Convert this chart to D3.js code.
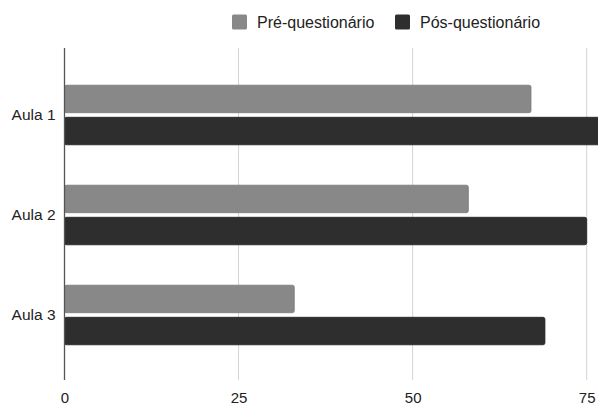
<!DOCTYPE html>
<html>
<head>
<meta charset="utf-8">
<script src="https://cdn.jsdelivr.net/npm/d3@7"></script>
<style>
  html, body { margin: 0; padding: 0; background: #fff; }
  svg { display: block; font-family: "Liberation Sans", Arial, sans-serif; }
</style>
</head>
<body>
<svg id="chart" width="598" height="405"></svg>
<script>
// Categories and series
const categories = ["Aula 1", "Aula 2", "Aula 3"];
const seriesNames = ["Pré-questionário", "Pós-questionário"];
const preValues = [67, 58, 33];
const posValues = [80, 75, 69];
const xTicks = [0, 25, 50, 75];

const colors = ["#888888", "#2e2e2e"];
const strokes = ["#7a7a7a", "#1e1e1e"];

const svg = d3.select("#chart");
const plotLeft = 64.5, plotTop = 48, plotBottom = 380;

const x = d3.scaleLinear().domain([0, 75]).range([plotLeft, 586.7]);
const y = d3.scaleBand().domain(categories).range([65, 365]).paddingInner(0).paddingOuter(0);
const sub = d3.scaleBand().domain(seriesNames).range([0, y.bandwidth()]).paddingInner(0.143).paddingOuter(0.63);

// Vertical gridlines
svg.append("g")
  .selectAll("line")
  .data(xTicks.filter(d => d > 0))
  .join("line")
  .attr("x1", d => x(d)).attr("x2", d => x(d))
  .attr("y1", plotTop).attr("y2", plotBottom)
  .attr("stroke", "#d3d3d3").attr("stroke-width", 1);

// Bars
const rows = categories.map((c, i) => ({ cat: c, vals: [preValues[i], posValues[i]] }));
const g = svg.append("g");
rows.forEach(r => {
  r.vals.forEach((v, j) => {
    g.append("rect")
      .attr("x", x(0))
      .attr("y", y(r.cat) + sub(seriesNames[j]))
      .attr("width", x(v) - x(0))
      .attr("height", sub.bandwidth())
      .attr("rx", 2).attr("ry", 2)
      .attr("fill", colors[j])
      .attr("stroke", strokes[j]).attr("stroke-width", 0.8);
  });
});

// Axis line at zero
svg.append("line")
  .attr("x1", x(0)).attr("x2", x(0))
  .attr("y1", plotTop).attr("y2", plotBottom)
  .attr("stroke", "#555").attr("stroke-width", 1.3);

// X tick labels
const xAxis = d3.axisBottom(x).tickValues(xTicks).tickSize(0).tickPadding(0);
const xa = svg.append("g").attr("transform", `translate(0, ${392})`).call(xAxis);
xa.select(".domain").remove();
xa.selectAll("text").attr("font-size", 15).attr("fill", "#222")
  .attr("font-family", "Liberation Sans, Arial, sans-serif");

// Category labels
const yAxis = d3.axisLeft(y).tickSize(0).tickPadding(9);
const ya = svg.append("g").attr("transform", `translate(${x(0)}, 0)`).call(yAxis);
ya.select(".domain").remove();
ya.selectAll("text").attr("font-size", 15.5).attr("fill", "#222")
  .attr("font-family", "Liberation Sans, Arial, sans-serif");

// Legend
const legendX = [232, 395];
const lg = svg.append("g");
seriesNames.forEach((s, j) => {
  lg.append("rect")
    .attr("x", legendX[j]).attr("y", 14.5)
    .attr("width", 15).attr("height", 15)
    .attr("rx", 1.5)
    .attr("fill", colors[j]);
  lg.append("text")
    .attr("x", legendX[j] + 25).attr("y", 27.5)
    .attr("font-size", 16).attr("fill", "#222")
    .text(s);
});
</script>
</body>
</html>
